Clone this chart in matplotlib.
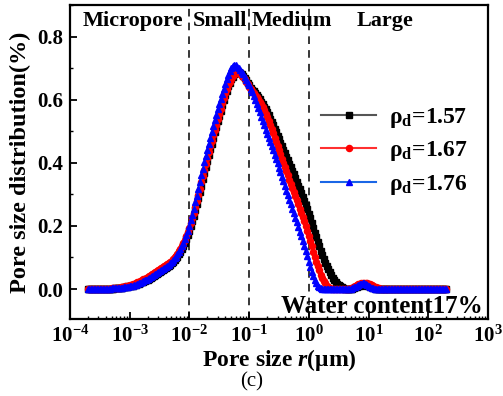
import numpy as np
import matplotlib
matplotlib.use("Agg")
import matplotlib.pyplot as plt
from matplotlib.ticker import FixedLocator, LogLocator, NullFormatter, FuncFormatter, MultipleLocator

plt.rcParams['font.family'] = ['Liberation Serif', 'DejaVu Serif']
plt.rcParams['font.weight'] = 'bold'
plt.rcParams['mathtext.fontset'] = 'custom'
plt.rcParams['mathtext.rm'] = 'Liberation Serif:bold'
plt.rcParams['mathtext.bf'] = 'Liberation Serif:bold'
plt.rcParams['mathtext.it'] = 'Liberation Serif:bold:italic'

# log10 of pore size (um) sampling grid (0.025 decade step)
log_r = np.round(np.arange(-3.7, 2.30001, 0.025), 4)
r = 10 ** log_r

rho_157 = ([0] * 12 +
           [0.001, 0.001, 0.001, 0.001, 0.001, 0.0015, 0.002, 0.0025, 0.003, 0.0035,
            0.004, 0.0045, 0.005, 0.006, 0.007, 0.008, 0.009, 0.010, 0.011, 0.0125,
            0.014, 0.0155, 0.017, 0.019, 0.021, 0.023, 0.025, 0.0275, 0.030, 0.0325,
            0.035, 0.038, 0.041, 0.044, 0.047, 0.050, 0.053, 0.056, 0.059, 0.0625,
            0.066, 0.0695, 0.073, 0.077, 0.081, 0.086, 0.091, 0.097, 0.103, 0.110,
            0.118, 0.127, 0.136, 0.147, 0.158, 0.171, 0.184, 0.199, 0.215, 0.232,
            0.250, 0.269, 0.288, 0.308, 0.328, 0.348, 0.368, 0.387, 0.406, 0.425,
            0.443, 0.461, 0.479, 0.497, 0.514, 0.531, 0.548, 0.565, 0.582, 0.599,
            0.615, 0.629, 0.642, 0.654, 0.664, 0.673, 0.680, 0.685, 0.688, 0.688,
            0.686, 0.682, 0.676, 0.669, 0.661, 0.653, 0.645, 0.638, 0.632, 0.626,
            0.620, 0.614, 0.607, 0.601, 0.594, 0.586, 0.578, 0.569, 0.560, 0.550,
            0.540, 0.530, 0.519, 0.508, 0.497, 0.486, 0.474, 0.463, 0.452, 0.441,
            0.430, 0.419, 0.408, 0.397, 0.386, 0.375, 0.363, 0.352, 0.340, 0.328,
            0.316, 0.304, 0.292, 0.279, 0.266, 0.252, 0.238, 0.224, 0.209, 0.194,
            0.179, 0.165, 0.150, 0.136, 0.122, 0.109, 0.096, 0.084, 0.073, 0.063,
            0.053, 0.044, 0.036, 0.029, 0.022, 0.017, 0.012, 0.008, 0.005, 0.003,
            0.001, 0.0005, 0, 0, 0, 0.001, 0.003, 0.005, 0.007, 0.009,
            0.011, 0.012, 0.013, 0.013, 0.012, 0.011, 0.009, 0.007, 0.005, 0.003,
            0.002, 0.001] +
           [0] * 47)

rho_167 = ([0] * 12 +
           [0.001, 0.001, 0.001, 0.0015, 0.002, 0.0025, 0.003, 0.0035, 0.004, 0.0045,
            0.005, 0.006, 0.007, 0.008, 0.009, 0.0105, 0.012, 0.0135, 0.015, 0.017,
            0.019, 0.021, 0.023, 0.0255, 0.028, 0.0305, 0.033, 0.036, 0.039, 0.042,
            0.045, 0.048, 0.051, 0.054, 0.057, 0.060, 0.063, 0.066, 0.069, 0.072,
            0.075, 0.0785, 0.082, 0.086, 0.090, 0.095, 0.100, 0.106, 0.112, 0.119,
            0.127, 0.136, 0.145, 0.156, 0.167, 0.180, 0.193, 0.209, 0.225, 0.242,
            0.260, 0.279, 0.298, 0.318, 0.338, 0.358, 0.378, 0.397, 0.416, 0.434,
            0.452, 0.470, 0.487, 0.504, 0.521, 0.538, 0.554, 0.571, 0.588, 0.604,
            0.620, 0.634, 0.646, 0.657, 0.667, 0.674, 0.680, 0.683, 0.684, 0.683,
            0.680, 0.676, 0.671, 0.664, 0.657, 0.649, 0.640, 0.634, 0.628, 0.622,
            0.615, 0.608, 0.601, 0.593, 0.585, 0.576, 0.566, 0.555, 0.544, 0.532,
            0.520, 0.507, 0.494, 0.480, 0.466, 0.453, 0.440, 0.427, 0.413, 0.400,
            0.386, 0.373, 0.360, 0.347, 0.333, 0.320, 0.307, 0.294, 0.281, 0.268,
            0.255, 0.242, 0.229, 0.215, 0.200, 0.184, 0.168, 0.152, 0.135, 0.118,
            0.102, 0.087, 0.072, 0.059, 0.046, 0.035, 0.026, 0.018, 0.011, 0.006,
            0.003, 0.001, 0, 0, 0, 0, 0, 0, 0, 0,
            0, 0, 0, 0.001, 0.002, 0.004, 0.006, 0.009, 0.012, 0.0145,
            0.017, 0.019, 0.020, 0.020, 0.020, 0.019, 0.017, 0.0145, 0.012, 0.0095,
            0.007, 0.005, 0.003, 0.002, 0.001, 0.0005] +
           [0] * 43)

rho_176 = ([0] * 12 +
           [0.001, 0.001, 0.001, 0.0015, 0.002, 0.002, 0.002, 0.0025, 0.003, 0.0035,
            0.004, 0.0045, 0.005, 0.0055, 0.006, 0.007, 0.008, 0.0095, 0.011, 0.0125,
            0.014, 0.016, 0.018, 0.020, 0.022, 0.0245, 0.027, 0.030, 0.033, 0.036,
            0.039, 0.042, 0.045, 0.048, 0.051, 0.054, 0.057, 0.060, 0.063, 0.0665,
            0.070, 0.0735, 0.077, 0.081, 0.086, 0.091, 0.097, 0.103, 0.110, 0.118,
            0.126, 0.135, 0.145, 0.157, 0.170, 0.184, 0.200, 0.218, 0.236, 0.255,
            0.275, 0.296, 0.317, 0.339, 0.360, 0.381, 0.402, 0.422, 0.442, 0.461,
            0.480, 0.499, 0.517, 0.535, 0.552, 0.569, 0.585, 0.602, 0.618, 0.634,
            0.650, 0.665, 0.678, 0.690, 0.700, 0.707, 0.711, 0.709, 0.705, 0.700,
            0.694, 0.687, 0.680, 0.672, 0.663, 0.654, 0.645, 0.634, 0.623, 0.612,
            0.600, 0.587, 0.573, 0.560, 0.546, 0.533, 0.519, 0.505, 0.492, 0.479,
            0.466, 0.453, 0.440, 0.426, 0.412, 0.398, 0.384, 0.370, 0.355, 0.341,
            0.326, 0.312, 0.297, 0.283, 0.268, 0.254, 0.240, 0.226, 0.211, 0.197,
            0.182, 0.167, 0.152, 0.136, 0.120, 0.104, 0.087, 0.071, 0.055, 0.041,
            0.028, 0.018, 0.010, 0.005, 0.002, 0.001, 0, 0, 0, 0,
            0, 0, 0, 0, 0, 0, 0, 0, 0, 0,
            0, 0, 0, 0.0005, 0.001, 0.003, 0.005, 0.0075, 0.010, 0.0125,
            0.015, 0.017, 0.018, 0.0175, 0.016, 0.013, 0.010, 0.007, 0.004, 0.0025,
            0.001, 0.0005] +
           [0] * 49)

labels = [r'ρ$_\mathregular{d}$=1.57', r'ρ$_\mathregular{d}$=1.67', r'ρ$_\mathregular{d}$=1.76']
boundaries = [1e-2, 1e-1, 1e0]
regions = ['Micropore', 'Small', 'Medium', 'Large']
region_x = [1.12e-3, 3.2e-2, 5.1e-1, 1.88e1]

fig = plt.figure(figsize=(5.03, 3.96), dpi=100)
ax = fig.add_axes([70 / 503, 1 - 319 / 396, 418 / 503, 314 / 396])

series = [rho_157, rho_167, rho_176]
styles = [dict(color='#555555', marker='s', ms=4.2, mfc='black', mec='black'),
          dict(color='#ff3030', marker='o', ms=4.4, mfc='#ff0000', mec='#ff0000'),
          dict(color='#1a66e6', marker='^', ms=5.0, mfc='#0000ff', mec='#0000ff')]
for y, st, lab in zip(series, styles, labels):
    n = min(len(y), len(r))
    ax.plot(r[:n], y[:n], lw=1.5, label=lab, **st)

for b in boundaries:
    ax.axvline(b, color='black', lw=1.1, ls=(0, (5, 4)), zorder=0)

ax.set_xscale('log')
ax.set_xlim(1e-4, 1e3)
ax.set_ylim(-0.095, 0.90)

ax.xaxis.set_major_locator(FixedLocator([1e-4, 1e-3, 1e-2, 1e-1, 1e0, 1e1, 1e2, 1e3]))
ax.xaxis.set_minor_locator(LogLocator(base=10, subs=np.arange(2, 10), numticks=20))
ax.xaxis.set_minor_formatter(NullFormatter())
ax.xaxis.set_major_formatter(FuncFormatter(lambda v, p: r'$10^{%d}$' % int(round(np.log10(v)))))
ax.yaxis.set_major_locator(MultipleLocator(0.2))
ax.yaxis.set_minor_locator(MultipleLocator(0.1))
ax.yaxis.set_major_formatter(FuncFormatter(lambda v, p: '%.1f' % v))

ax.tick_params(axis='both', which='major', direction='in', length=5, width=1.3, labelsize=15, pad=5)
ax.tick_params(axis='both', which='minor', direction='in', length=2.5, width=1.0)
ax.tick_params(top=False, right=False)
for s in ax.spines.values():
    s.set_linewidth(1.6)

ax.set_ylabel('Pore size distribution(%)', fontsize=17.5, fontweight='bold', labelpad=4)
ax.set_xlabel(r'Pore size $\it{r}$(μm)', fontsize=17, fontweight='bold', labelpad=0)

for name, xr in zip(regions, region_x):
    ax.text(xr, 0.848, name, ha='center', va='center', fontsize=16, fontweight='bold')

ax.text(0.988, 0.019, 'Water content17%', transform=ax.transAxes, ha='right', va='baseline',
        fontsize=18, fontweight='bold')

fig.text(252 / 503, 1 - 382 / 396, '(c)', ha='center', va='center', fontsize=15, fontweight='normal')

leg = ax.legend(loc='upper left', bbox_to_anchor=(321 / 503, 1 - 106 / 396), bbox_transform=fig.transFigure,
                frameon=False, fontsize=17, handlelength=2.35, handletextpad=0.55, labelspacing=0.4,
                borderpad=0, borderaxespad=0, markerscale=1.0)

fig.savefig('out.png', dpi=100)
